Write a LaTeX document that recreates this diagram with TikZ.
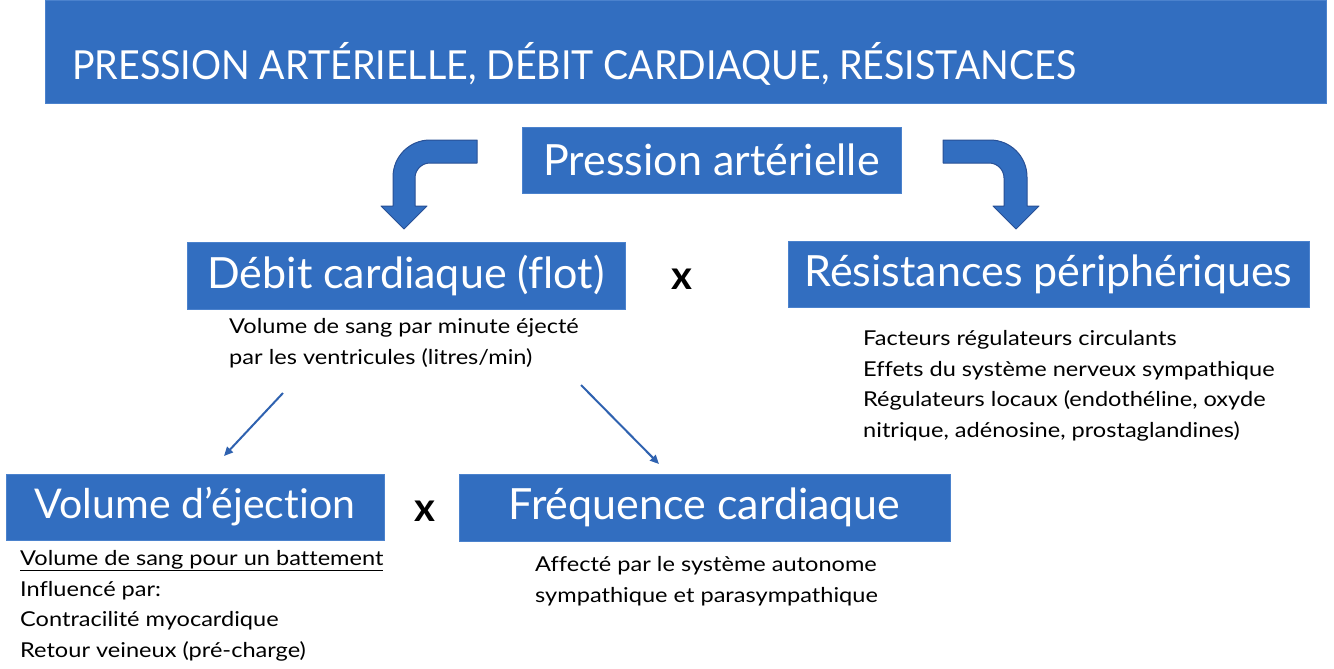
\documentclass[tikz,border=0pt]{standalone}
\usepackage{fontspec}
\setmainfont{Lato}[Ligatures=NoCommon]
\newfontfamily\titlefont[FakeStretch=0.94]{Lato}
\newfontfamily\subfont[FakeStretch=1.15,Ligatures=NoCommon]{Lato}
\usetikzlibrary{arrows.meta}
\definecolor{boxblue}{RGB}{50,110,192}
\definecolor{boxedge}{RGB}{75,130,205}
\definecolor{arrowedge}{RGB}{40,80,150}
\definecolor{linkblue}{RGB}{47,98,176}
\begin{document}
\begin{tikzpicture}[x=1pt,y=-1pt,
  bluebox/.style={fill=boxblue, draw=boxedge, line width=0.8pt, text=white, inner sep=0pt, anchor=center},
  boxtext/.style={font=\fontsize{43}{50}\selectfont},
  subtext/.style={anchor=base west, align=left, inner sep=0pt, font=\subfont\fontsize{20.5}{30.5}\selectfont},
  bent/.style={fill=boxblue, draw=arrowedge, line width=1pt, line join=round},
  link/.style={draw=linkblue, line width=2pt, -{Triangle[length=9pt,width=8pt]}},
  times/.style={font=\fontsize{40}{40}\selectfont\bfseries, inner sep=0pt}]
\useasboundingbox (0,0) rectangle (1334,669);
\fill[white] (0,0) rectangle (1334,669);

% banner
\node[bluebox, minimum width=1281pt, minimum height=103pt] (banner) at (685.5,51.5) {};
\node[anchor=base west, inner sep=0pt, text=white, font=\titlefont\fontsize{40}{40}\selectfont] (title) at (72,80) {PRESSION ARTÉRIELLE, DÉBIT CARDIAQUE, RÉSISTANCES};

% main boxes
\node[bluebox, boxtext, minimum width=379pt, minimum height=66pt] (pa) at (711.5,160) {Pression artérielle};
\node[bluebox, boxtext, minimum width=438pt, minimum height=67pt] (dc) at (406,275.5) {Débit cardiaque (flot)};
\node[bluebox, boxtext, minimum width=521pt, minimum height=66pt] (rp) at (1048.5,274) {Résistances périphériques};
\node[bluebox, boxtext, font=\fontsize{41}{50}\selectfont, minimum width=378pt, minimum height=66pt] (ve) at (195,507) {Volume d’éjec\kern0pt tion};
\node[bluebox, boxtext, minimum width=491pt, minimum height=67pt] (fc) at (704.5,507.5) {Fréquence cardiaque};

% multiplication signs
\node[times] (x1) at (682,279) {x};
\node[times] (x2) at (425,511) {x};

% sub texts (anchored at the baseline of their last line)
\node[subtext] (dctext) at (229,364) {Volume de sang par minute éjecté\\par les ventricules (litres/min)};
\node[subtext] (rptext) at (863,437) {Facteurs régulateurs circulants\\Effets du système nerveux sympathique\\Régulateurs locaux (endothéline, oxyde\\nitrique, adénosine, prostaglandines)};
\node[subtext] (vetext) at (20,657) {\underline{Volume de sang pour un battement}\\Influencé par:\\Contracilité myocardique\\Retour veineux (pré-charge)};
\node[subtext] (fctext) at (535,602) {Affecté par le système autonome\\sympathique et parasympathique};

% bent block arrows
\draw[bent] (477,140) -- (430,140) .. controls (409.6,140) and (393,156.4) .. (393,177)
  -- (393,206) -- (381,206) -- (404,229) -- (427,206) -- (415,206) -- (415,178)
  .. controls (415,169.7) and (421.7,163) .. (430,163) -- (477,163) -- cycle;
\draw[bent] (943,140) -- (990,140) .. controls (1010.4,140) and (1027,156.4) .. (1027,177)
  -- (1027,206) -- (1039,206) -- (1016,229) -- (993,206) -- (1004,206) -- (1004,178)
  .. controls (1004,169.7) and (997.3,163) .. (989,163) -- (943,163) -- cycle;

% thin arrows
\coordinate (l1s) at (283,393);
\coordinate (l1e) at (224,456);
\coordinate (l2s) at (581,385);
\coordinate (l2e) at (659,464);
\draw[link] (l1s) -- (l1e);
\draw[link] (l2s) -- (l2e);
\end{tikzpicture}
\end{document}
